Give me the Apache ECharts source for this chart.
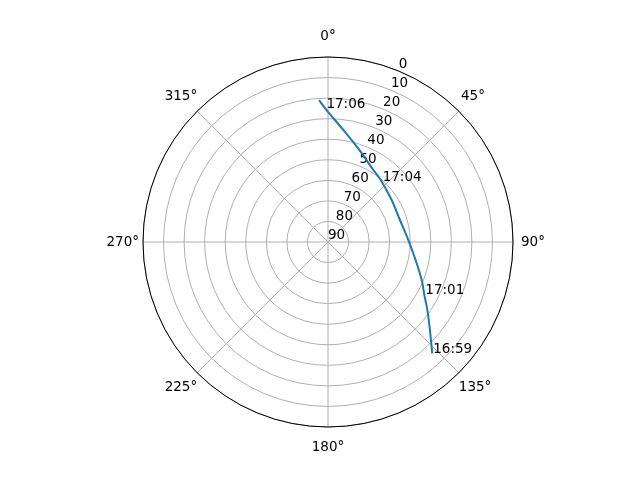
<!DOCTYPE html>
<html>
<head>
<meta charset="utf-8">
<script src="https://cdn.jsdelivr.net/npm/echarts@6/dist/echarts.min.js"></script>
<style>html,body{margin:0;padding:0;background:#fff}#c{width:640px;height:480px}</style>
</head>
<body>
<div id="c"></div>
<script>
// Pass track: azimuth (deg, clockwise from N) and elevation (deg), in time order
var trackAz = [136.9, 130.8, 124.4, 118.8, 112.1, 101.6, 88.6, 73.0, 56.6, 40.4, 32.2, 18.8, 7.8, 359.4, 356.4];
var trackEl = [15.8, 24.5, 31.4, 36.5, 40.8, 46.5, 50.9, 53.4, 52.9, 50.4, 48.6, 42.7, 35.0, 25.8, 20.8];
// Time annotations
var timeLabels = ['16:59', '17:01', '17:04', '17:06'];
var timeAz = [136.9, 118.8, 41.5, 358.9];
var timeEl = [15.8, 36.5, 50.6, 25.2];
// Axis ticks
var angleTicks = [0, 45, 90, 135, 180, 225, 270, 315];
var radiusTicks = [0, 10, 20, 30, 40, 50, 60, 70, 80, 90];

var FONT = 'DejaVu Sans';
var FS = 13.5;
var GRID = '#b0b0b0';

var trackData = trackAz.map(function (a, i) { return [trackEl[i], a]; });
var timeData = timeLabels.map(function (t, i) { return { name: t, value: [timeEl[i], timeAz[i]] }; });

// padding per angle label so text is centred on a ring outside the circle
var pads = {
  0: [0, 0, 13.5, 0], 45: [0, 0, 7.7, 2.2], 90: [0, 0, 0, 8], 135: [7.7, 0, 0, 0],
  180: [13.5, 0, 0, 0], 225: [7.7, 0, 0, 0], 270: [0, 4, 0, 0], 315: [0, 0, 7.7, 0]
};
var rich = {};
angleTicks.forEach(function (t) {
  rich['a' + t] = { padding: pads[t], fontFamily: FONT, fontSize: FS, color: '#000' };
});

var chart = echarts.init(document.getElementById('c'), null, { renderer: 'canvas' });
chart.setOption({
  animation: false,
  backgroundColor: '#fff',
  textStyle: { fontFamily: FONT },
  polar: [
    { center: [328, 242], radius: 185 },
    { center: [328, 242], radius: 185 }
  ],
  angleAxis: [
    {
      polarIndex: 0, type: 'value', min: 0, max: 360, interval: 45,
      startAngle: 90, clockwise: true, z: 5,
      axisLine: { show: true, lineStyle: { color: '#000', width: 1 } },
      axisTick: { show: false },
      splitLine: { show: true, lineStyle: { color: GRID, width: 1 } },
      axisLabel: {
        show: true, margin: 0,
        formatter: function (v) {
          if (v >= 360) return '';
          return '{a' + v + '|' + v + '°}';
        },
        rich: rich
      }
    },
    {
      polarIndex: 1, type: 'value', min: 0, max: 360, interval: 45,
      startAngle: 67.5, clockwise: true, show: false
    }
  ],
  radiusAxis: [
    {
      polarIndex: 0, type: 'value', min: 0, max: 90, interval: 10, inverse: true, z: 1,
      axisLine: { show: false }, axisTick: { show: false }, axisLabel: { show: false },
      splitLine: { show: true, lineStyle: { color: GRID, width: 1 } }
    },
    {
      polarIndex: 1, type: 'value', min: 0, max: 90, interval: 10, inverse: true, z: 6,
      axisLine: { show: false }, axisTick: { show: false }, splitLine: { show: false },
      axisLabel: {
        show: true, margin: 0, rotate: 0, align: 'left', verticalAlign: 'bottom',
        showMinLabel: true, showMaxLabel: true,
        fontFamily: FONT, fontSize: FS, color: '#000',
        formatter: function (v) { return String(v); }
      }
    }
  ],
  series: [
    {
      type: 'line', coordinateSystem: 'polar', polarIndex: 0,
      data: trackData, showSymbol: false, symbol: 'none', smooth: 0.3, z: 10,
      lineStyle: { color: '#1f77b4', width: 2 }
    },
    {
      type: 'scatter', coordinateSystem: 'polar', polarIndex: 0,
      data: timeData, symbolSize: 0, z: 11,
      itemStyle: { opacity: 1 },
      label: {
        show: true, formatter: '{b}', position: [0, 0], offset: [1, 3],
        align: 'left', verticalAlign: 'bottom',
        fontFamily: FONT, fontSize: FS, color: '#000',
        textBorderWidth: 0, textBorderColor: 'transparent', opacity: 1
      }
    }
  ]
});
</script>
</body>
</html>
